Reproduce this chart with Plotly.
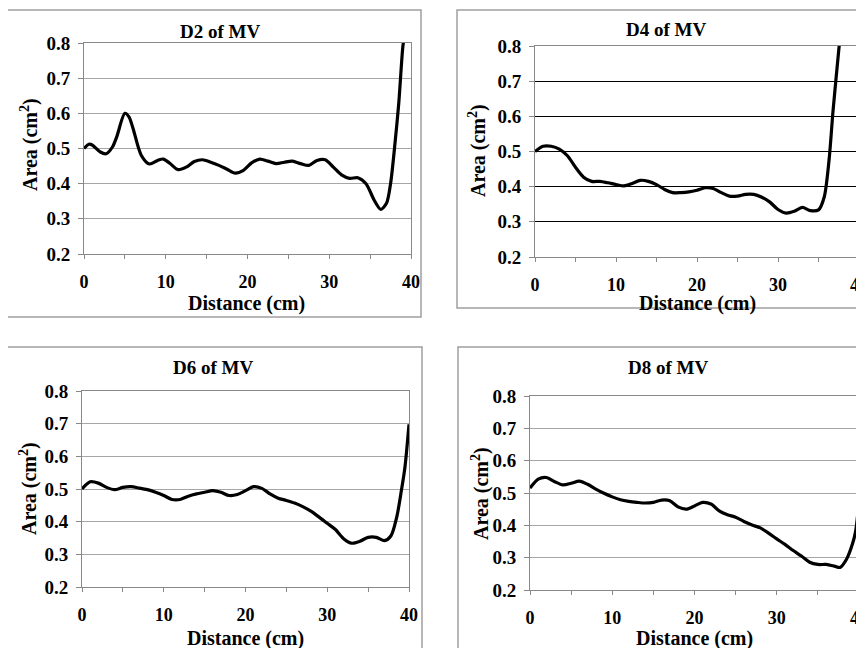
import plotly.graph_objects as go

# ---------------- data ----------------
d2_x = [0, 0.6, 1, 2, 2.7, 3.5, 4, 5, 5.5, 6, 7, 8, 9, 9.7, 10.5, 11.5, 12.5, 13.5, 14.5, 15.5,
        16.5, 17.5, 18.5, 19.5, 20.5, 21.5, 22.5, 23.5, 24.5, 25.5, 26.5, 27.5, 28.5, 29.5,
        30.5, 31.5, 32.5, 33.5, 34.5, 35.5, 36.3, 37, 37.5, 38, 38.5, 39, 39.2]
d2_y = [0.50, 0.512, 0.51, 0.49, 0.485, 0.505, 0.533, 0.60, 0.59, 0.557, 0.481, 0.456, 0.466,
        0.47, 0.458, 0.44, 0.447, 0.463, 0.468, 0.461, 0.452, 0.441, 0.43, 0.438, 0.459, 0.47,
        0.464, 0.457, 0.461, 0.464, 0.457, 0.452, 0.466, 0.468, 0.447, 0.425, 0.415, 0.417,
        0.40, 0.353, 0.327, 0.344, 0.40, 0.505, 0.628, 0.789, 0.82]

d4_x = [0, 1, 2, 3, 4, 5, 6, 7, 8, 9, 10, 11, 12, 13, 14, 15, 16, 17, 18, 19, 20, 21, 22, 23,
        24, 25, 26, 27, 28, 29, 30, 31, 32, 33, 34, 35, 35.7, 36.3, 36.8, 37.5, 37.6]
d4_y = [0.50, 0.515, 0.515, 0.507, 0.488, 0.455, 0.427, 0.415, 0.415, 0.411, 0.406, 0.402,
        0.409, 0.418, 0.415, 0.406, 0.392, 0.383, 0.383, 0.385, 0.39, 0.397, 0.395, 0.383,
        0.373, 0.373, 0.378, 0.378, 0.37, 0.356, 0.335, 0.325, 0.33, 0.341, 0.332, 0.334,
        0.37, 0.475, 0.617, 0.788, 0.81]

d6_x = [0, 1, 2, 3, 4, 5, 6, 7, 8, 9, 10, 11, 12, 13, 14, 15, 16, 17, 18, 19, 20, 21, 22, 23,
        24, 25, 26, 27, 28, 29, 30, 31, 32, 33, 34, 35, 36, 37, 37.8, 38.5, 39, 39.5, 40]
d6_y = [0.50, 0.522, 0.518, 0.505, 0.498, 0.505, 0.507, 0.503, 0.498, 0.49, 0.48, 0.468,
        0.468, 0.478, 0.485, 0.49, 0.495, 0.49, 0.48, 0.483, 0.495, 0.507, 0.502, 0.485,
        0.472, 0.465, 0.457, 0.446, 0.432, 0.414, 0.395, 0.376, 0.348, 0.334, 0.34, 0.352,
        0.352, 0.342, 0.357, 0.414, 0.485, 0.566, 0.698]

d8_x = [0, 1, 2, 3, 4, 5, 6, 7, 8, 9, 10, 11, 12, 13, 14, 15, 16, 17, 18, 19, 20, 21, 22, 23,
        24, 25, 26, 27, 28, 29, 30, 31, 32, 33, 34, 35, 36, 37, 37.7, 38.5, 39.2, 39.6, 40]
d8_y = [0.515, 0.543, 0.548, 0.535, 0.525, 0.53, 0.537, 0.527, 0.512, 0.499, 0.488, 0.479,
        0.474, 0.471, 0.469, 0.471, 0.478, 0.476, 0.457, 0.45, 0.46, 0.471, 0.466, 0.445,
        0.433, 0.425, 0.412, 0.401, 0.392, 0.376, 0.358, 0.341, 0.322, 0.305, 0.286, 0.279,
        0.279, 0.274, 0.27, 0.296, 0.342, 0.383, 0.476]

titles = ["D2 of MV", "D4 of MV", "D6 of MV", "D8 of MV"]
x_title = "Distance (cm)"
y_title = "Area (cm<sup>2</sup>)"
x_tickvals = [0, 5, 10, 15, 20, 25, 30, 35, 40]
x_ticktext = ["0", "", "10", "", "20", "", "30", "", "40"]
y_tickvals = [0.2, 0.3, 0.4, 0.5, 0.6, 0.7, 0.8]
y_ticktext = ["0.2", "0.3", "0.4", "0.5", "0.6", "0.7", "0.8"]

series = [(d2_x, d2_y), (d4_x, d4_y), (d6_x, d6_y), (d8_x, d8_y)]

# ---------------- layout geometry (window pixels) ----------------
W, H = 864, 648
OFF = 8  # page body margin in the browser
# plot areas: (x0, x1, ytop, ybottom)
plots = [(84, 411, 43, 254), (535, 859, 46, 257), (82, 409, 391, 587), (530, 859, 396, 590)]
frames = [(4, 421, 10, 317), (457, 890, 10, 308), (7, 422, 347, 680), (458, 890, 347, 680)]
title_pos = [(220, 31), (666, 29), (213, 367), (668, 367)]
xtitle_pos = [(247, 303), (697, 303), (245, 638), (694, 638)]
ytitle_pos = [(30, 145), (477, 151), (28, 489), (480, 494)]
grid_colors = ["#a6a6a6", "#000000", "#a6a6a6", "#a6a6a6"]

FONT = "Liberation Serif"

fig = go.Figure()
layout = dict(width=W, height=H, margin=dict(l=0, r=0, t=0, b=0, autoexpand=False),
              paper_bgcolor="white", plot_bgcolor="white", showlegend=False,
              shapes=[], annotations=[])

def px(x):
    return (x - OFF) / W

def py(y):
    return 1 - (y - OFF) / H

def text_ann(text, x, y, size, angle=0):
    return dict(text=text, xref="paper", yref="paper", x=px(x), y=py(y), showarrow=False,
                xanchor="center", yanchor="middle", textangle=angle,
                font=dict(family=FONT, size=size, color="black", weight="bold"))

for i, ((xs, ys), (x0, x1, yt, yb)) in enumerate(zip(series, plots)):
    n = "" if i == 0 else str(i + 1)
    fig.add_trace(go.Scatter(x=xs, y=ys, mode="lines",
                             line=dict(color="black", width=3.2, shape="spline", smoothing=0.8),
                             xaxis="x" + n, yaxis="y" + n, hoverinfo="skip"))
    layout["xaxis" + n] = dict(
        domain=[px(x0), px(x1)], anchor="y" + n, range=[0, 40], automargin=False,
        tickmode="array", tickvals=x_tickvals, ticktext=x_ticktext,
        ticks="outside", ticklen=4, tickcolor="#888888", tickwidth=1,
        showline=True, linecolor="#888888", linewidth=1, mirror=True,
        showgrid=False, zeroline=False, ticklabelstandoff=7,
        tickfont=dict(family=FONT, size=18, color="black", weight="bold"),
    )
    layout["yaxis" + n] = dict(
        domain=[py(yb), py(yt)], anchor="x" + n, range=[0.2, 0.8], automargin=False,
        tickmode="array", tickvals=y_tickvals, ticktext=y_ticktext,
        ticks="outside", ticklen=5, tickcolor="#888888", tickwidth=1,
        showline=True, linecolor="#888888", linewidth=1, mirror=True,
        showgrid=True, gridcolor=grid_colors[i], gridwidth=1, zeroline=False,
        ticklabelstandoff=4,
        tickfont=dict(family=FONT, size=19, color="black", weight="bold"),
    )
    fx0, fx1, fyt, fyb = frames[i]
    layout["shapes"].append(dict(type="rect", xref="paper", yref="paper",
                                 x0=px(fx0), x1=px(fx1), y0=py(fyb), y1=py(fyt),
                                 line=dict(color="#a0a0a0", width=1.5), layer="below"))
    layout["annotations"].append(text_ann(titles[i], *title_pos[i], 19))
    layout["annotations"].append(text_ann(x_title, *xtitle_pos[i], 20))
    layout["annotations"].append(text_ann(y_title, *ytitle_pos[i], 20, angle=-90))

fig.update_layout(**layout)
fig.write_html("out.html")
